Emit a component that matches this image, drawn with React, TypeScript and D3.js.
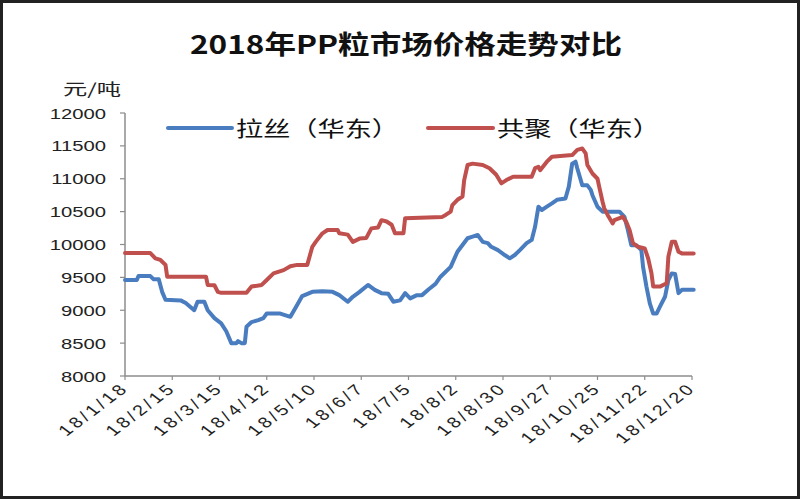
import React from "react";
import * as d3 from "d3";

const title = "2018年PP粒市场价格走势对比";
const unitLabel = "元/吨";
const seriesNames = ["拉丝（华东）", "共聚（华东）"];
const seriesColors = ["#4a7dbf", "#c0504d"];

const yTicks = [8000, 8500, 9000, 9500, 10000, 10500, 11000, 11500, 12000];
const xTickDates = ["1/18", "2/15", "3/15", "4/12", "5/10", "6/7", "7/5", "8/2", "8/30", "9/27", "10/25", "11/22", "12/20"];

const blueDates = ["1/18","1/25","1/26","2/2","2/4","2/7","2/9","2/11","2/20","2/23","2/28","3/2","3/6","3/8","3/12","3/16","3/19","3/22","3/25","3/26","3/28","3/30","3/31","4/3","4/7","4/10","4/12","4/20","4/26","4/30","5/3","5/9","5/15","5/21","5/25","5/30","6/2","6/6","6/11","6/15","6/19","6/23","6/26","6/30","7/3","7/6","7/10","7/13","7/17","7/21","7/24","7/30","8/3","8/9","8/12","8/15","8/18","8/21","8/23","8/27","8/31","9/3","9/6","9/9","9/13","9/16","9/18","9/20","9/22","9/25","9/28","10/1","10/6","10/8","10/10","10/12","10/13","10/16","10/19","10/21","10/22","10/25","10/28","11/7","11/10","11/12","11/14","11/17","11/20","11/21","11/23","11/25","11/27","11/29","12/1","12/4","12/6","12/8","12/10","12/12","12/14","12/21"];
const blueValues = [9460,9460,9520,9520,9470,9470,9280,9160,9150,9110,9000,9130,9130,9000,8880,8800,8680,8500,8500,8530,8500,8500,8750,8820,8850,8880,8950,8950,8900,9080,9215,9280,9290,9280,9230,9130,9205,9280,9385,9310,9260,9250,9130,9150,9260,9180,9230,9230,9320,9400,9510,9660,9890,10095,10120,10145,10040,10020,9965,9915,9840,9790,9840,9915,10020,10070,10270,10575,10525,10575,10625,10680,10700,10880,11230,11260,11160,10900,10900,10830,10750,10575,10500,10500,10420,10220,9990,9990,9915,9660,9360,9105,8950,8950,9055,9205,9460,9560,9550,9260,9310,9310];

const redDates = ["1/18","2/2","2/5","2/8","2/11","2/12","3/7","3/8","3/12","3/14","3/16","3/31","4/3","4/9","4/12","4/16","4/22","4/26","4/30","5/6","5/9","5/11","5/15","5/18","5/24","5/25","5/30","6/2","6/6","6/10","6/13","6/17","6/19","6/22","6/25","6/27","7/2","7/3","7/25","7/27","7/30","7/31","8/3","8/6","8/7","8/9","8/12","8/18","8/22","8/26","8/29","9/1","9/5","9/16","9/18","9/20","9/21","9/25","9/28","10/10","10/13","10/16","10/18","10/19","10/22","10/25","10/26","10/28","10/29","10/31","11/3","11/4","11/9","11/11","11/13","11/15","11/18","11/22","11/24","11/26","11/27","12/1","12/5","12/6","12/8","12/10","12/12","12/14","12/21"];
const redValues = [9870,9870,9790,9765,9690,9510,9510,9385,9380,9280,9265,9265,9360,9385,9460,9560,9610,9670,9690,9690,9965,10040,10170,10220,10220,10170,10150,10040,10090,10100,10245,10260,10370,10350,10300,10170,10170,10400,10420,10450,10500,10600,10680,10730,10980,11210,11230,11210,11160,11060,10930,10980,11030,11030,11160,11180,11130,11260,11335,11360,11440,11460,11385,11210,11080,11000,10880,10650,10550,10450,10320,10370,10420,10345,10220,10020,9965,9940,9790,9560,9360,9360,9410,9815,10040,10040,9890,9865,9865];

const parse = (s: string) => {
  const [m, d] = s.split("/").map(Number);
  return new Date(2018, m - 1, d);
};

const numFont = "'Liberation Sans', Arial, sans-serif";
const cjkFont = "'Noto Sans CJK SC', 'Noto Sans', sans-serif";
const SX = 1.35;

export default function App() {
  const W = 800, H = 500;
  const x = d3.scaleTime().domain([parse("1/18"), parse("12/20")]).range([125, 692]);
  const y = d3.scaleLinear().domain([8000, 12000]).range([376, 113]);
  const fmt = d3.timeFormat("%y/%-m/%-d");
  const line = d3.line<[Date, number]>().x(d => x(d[0])).y(d => y(d[1]));

  const blue: [Date, number][] = blueDates.map((s, i) => [parse(s), blueValues[i]]);
  const red: [Date, number][] = redDates.map((s, i) => [parse(s), redValues[i]]);
  const axisColor = "#8c8c8c";

  return (
    <svg width={W} height={H} style={{ position: "absolute", left: 0, top: 0, background: "#fff" }}>
      <rect x={1.5} y={1.5} width={797} height={496} fill="#fff" stroke="#222" strokeWidth={3} />
      <text x={190} y={54} textLength={432} lengthAdjust="spacingAndGlyphs" fontFamily={cjkFont} fontWeight="bold" fontSize={26} fill="#111">{title}</text>
      <text x={63} y={95} textLength={58} lengthAdjust="spacingAndGlyphs" fontFamily={cjkFont} fontSize={16} fill="#222">{unitLabel}</text>

      {/* y axis */}
      <line x1={125} x2={125} y1={y(12000)} y2={y(8000)} stroke={axisColor} strokeWidth={1.5} />
      {yTicks.map(t => (
        <g key={t}>
          <line x1={120} x2={125} y1={y(t)} y2={y(t)} stroke={axisColor} strokeWidth={1.2} />
          <text transform={`translate(106,${y(t) + 5.5}) scale(${SX},1)`} textAnchor="end" fontFamily={numFont} fontSize={15} fill="#222">{t}</text>
        </g>
      ))}

      {/* x axis */}
      <line x1={125} x2={692} y1={376} y2={376} stroke={axisColor} strokeWidth={1.5} />
      {xTickDates.map(s => {
        const d = parse(s);
        const px = x(d);
        return (
          <g key={s}>
            <line x1={px} x2={px} y1={376} y2={380} stroke={axisColor} strokeWidth={1.2} />
            <text transform={`translate(${px + 5},389) scale(1.33,1) rotate(-45)`} textAnchor="end" fontFamily={numFont} fontSize={15} letterSpacing={2.5} fill="#222">{fmt(d)}</text>
          </g>
        );
      })}

      {/* lines */}
      <path d={line(blue) || ""} fill="none" stroke={seriesColors[0]} strokeWidth={4} strokeLinejoin="round" strokeLinecap="round" />
      <path d={line(red) || ""} fill="none" stroke={seriesColors[1]} strokeWidth={4} strokeLinejoin="round" strokeLinecap="round" />

      {/* legend */}
      <line x1={168} x2={232} y1={128} y2={128} stroke={seriesColors[0]} strokeWidth={4} strokeLinecap="round" />
      <text x={236} y={136} textLength={163} lengthAdjust="spacingAndGlyphs" fontFamily={cjkFont} fontSize={21} fill="#111">{seriesNames[0]}</text>
      <line x1={428} x2={493} y1={128} y2={128} stroke={seriesColors[1]} strokeWidth={4} strokeLinecap="round" />
      <text x={497} y={136} textLength={163} lengthAdjust="spacingAndGlyphs" fontFamily={cjkFont} fontSize={21} fill="#111">{seriesNames[1]}</text>
    </svg>
  );
}
